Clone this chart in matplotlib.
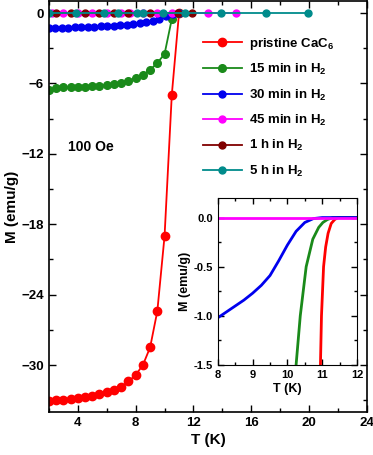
import matplotlib
matplotlib.use("Agg")
import matplotlib.pyplot as plt
from matplotlib.ticker import MultipleLocator

plt.rcParams['font.family'] = ['Liberation Sans', 'DejaVu Sans']
plt.rcParams['font.weight'] = 'bold'
plt.rcParams['mathtext.fontset'] = 'custom'
plt.rcParams['mathtext.rm'] = 'Liberation Sans:bold'
plt.rcParams['mathtext.bf'] = 'Liberation Sans:bold'

# main panel data (T in K, M in emu/g)
t_pristine = [2.0, 2.5, 3.0, 3.5, 4.0, 4.5, 5.0, 5.5, 6.0, 6.5, 7.0, 7.5, 8.0, 8.5, 9.0, 9.5, 10.0, 10.5, 11.0]
m_pristine = [-33.05, -32.97, -32.95, -32.9, -32.8, -32.7, -32.6, -32.45, -32.3, -32.1, -31.9, -31.4, -30.85,
              -30.0, -28.5, -25.4, -19.0, -6.97, 0.0]

t_15 = [2.0, 2.5, 3.0, 3.5, 4.0, 4.5, 5.0, 5.5, 6.0, 6.5, 7.0, 7.5, 8.0, 8.5, 9.0, 9.5, 10.0, 10.5, 11.0]
m_15 = [-6.54, -6.37, -6.3, -6.29, -6.29, -6.28, -6.25, -6.2, -6.12, -6.03, -5.95, -5.78, -5.52, -5.27,
        -4.84, -4.25, -3.48, -0.51, 0.0]

t_30 = [2.0, 2.45, 2.9, 3.35, 3.8, 4.25, 4.7, 5.15, 5.6, 6.05, 6.5, 6.95, 7.4, 7.85, 8.3, 8.75, 9.2,
        9.65, 10.1, 10.55, 11.0]
m_30 = [-1.3, -1.28, -1.26, -1.24, -1.22, -1.2, -1.18, -1.15, -1.13, -1.1, -1.07, -1.04, -1.0, -0.95,
        -0.88, -0.8, -0.7, -0.52, -0.25, -0.05, 0.0]

t_45 = [2.2, 3.0, 4.0, 5.0, 6.0, 7.0, 7.6, 8.5, 9.45, 10.5, 12.97, 14.97]
m_45 = [0.0] * len(t_45)

t_1h = [2.5, 3.5, 4.5, 5.5, 6.5, 7.5, 9.0, 10.9, 11.9]
m_1h = [0.0] * len(t_1h)

t_5h = [2.0, 3.9, 5.8, 6.8, 8.1, 8.5, 9.9, 11.4, 13.9, 17.0, 19.9]
m_5h = [0.0] * len(t_5h)

labels = ['pristine CaC$_6$', '15 min in H$_2$', '30 min in H$_2$',
          '45 min in H$_2$', '1 h in H$_2$', '5 h in H$_2$']
colors = ['#ff0000', '#1a8a1a', '#0000ee', '#ff00ff', '#800000', '#008b8b']

# inset data
ti_pristine = [10.95, 10.98, 11.04, 11.1, 11.17, 11.26, 11.36, 11.45, 12.0]
mi_pristine = [-1.5, -1.0, -0.5, -0.3, -0.16, -0.06, -0.02, 0.0, 0.0]
ti_15 = [10.25, 10.37, 10.54, 10.73, 10.9, 11.02, 11.15, 11.3, 12.0]
mi_15 = [-1.5, -1.0, -0.5, -0.22, -0.1, -0.05, -0.02, 0.0, 0.0]
ti_30 = [8.0, 8.25, 8.5, 8.75, 9.0, 9.25, 9.5, 9.75, 10.0, 10.25, 10.5, 10.75, 11.0, 12.0]
mi_30 = [-1.02, -0.96, -0.9, -0.84, -0.77, -0.69, -0.59, -0.44, -0.28, -0.14, -0.05, -0.01, 0.0, 0.0]
ti_45 = [8.0, 12.0]
mi_45 = [0.0, 0.0]

fig = plt.figure(figsize=(3.73, 4.55), dpi=100)
ax = fig.add_axes([0.131, 0.0945, 0.853, 0.9025])

series = [(t_pristine, m_pristine, 6), (t_15, m_15, 5.5), (t_30, m_30, 5),
          (t_45, m_45, 5), (t_1h, m_1h, 5), (t_5h, m_5h, 5)]
for (t, m, ms), lab, c in zip(series, labels, colors):
    ax.plot(t, m, '-o', color=c, lw=1.3, ms=ms, mec=c, mfc=c, label=lab)

ax.set_xlim(2, 24)
ax.set_ylim(-34, 1)
ax.xaxis.set_major_locator(MultipleLocator(4))
ax.xaxis.set_minor_locator(MultipleLocator(2))
ax.yaxis.set_major_locator(MultipleLocator(6))
ax.yaxis.set_minor_locator(MultipleLocator(3))
ax.tick_params(which='both', direction='in', top=True, right=True, labelsize=9.5, width=1)
ax.tick_params(which='major', length=5)
ax.tick_params(which='minor', length=3)
ax.set_xlabel('T (K)', fontsize=11, fontweight='bold', labelpad=3)
ax.set_ylabel('M (emu/g)', fontsize=11, fontweight='bold', labelpad=2)
for s in ax.spines.values():
    s.set_linewidth(1.2)
ax.text(3.3, -11.4, '100 Oe', fontsize=10, fontweight='bold', va='center')

ax.legend(loc='upper right', bbox_to_anchor=(0.935, 0.945), frameon=False, fontsize=9.5,
          handlelength=2.9, labelspacing=0.78, handletextpad=0.6)

ins = fig.add_axes([0.584, 0.198, 0.373, 0.367])
for t, m, c in [(ti_pristine, mi_pristine, colors[0]), (ti_15, mi_15, colors[1]),
                (ti_30, mi_30, colors[2]), (ti_45, mi_45, colors[3])]:
    ins.plot(t, m, '-', color=c, lw=2)
ins.set_xlim(8, 12)
ins.set_ylim(-1.5, 0.2)
ins.xaxis.set_major_locator(MultipleLocator(1))
ins.xaxis.set_minor_locator(MultipleLocator(0.5))
ins.yaxis.set_major_locator(MultipleLocator(0.5))
ins.yaxis.set_minor_locator(MultipleLocator(0.25))
ins.yaxis.set_major_formatter(matplotlib.ticker.FormatStrFormatter('%.1f'))
ins.tick_params(which='both', direction='in', top=True, right=True, labelsize=8, width=1)
ins.tick_params(which='major', length=4)
ins.tick_params(which='minor', length=2)
ins.set_xlabel('T (K)', fontsize=9, fontweight='bold', labelpad=2)
ins.set_ylabel('M (emu/g)', fontsize=9, fontweight='bold', labelpad=2)

fig.savefig('out.png', dpi=100)
